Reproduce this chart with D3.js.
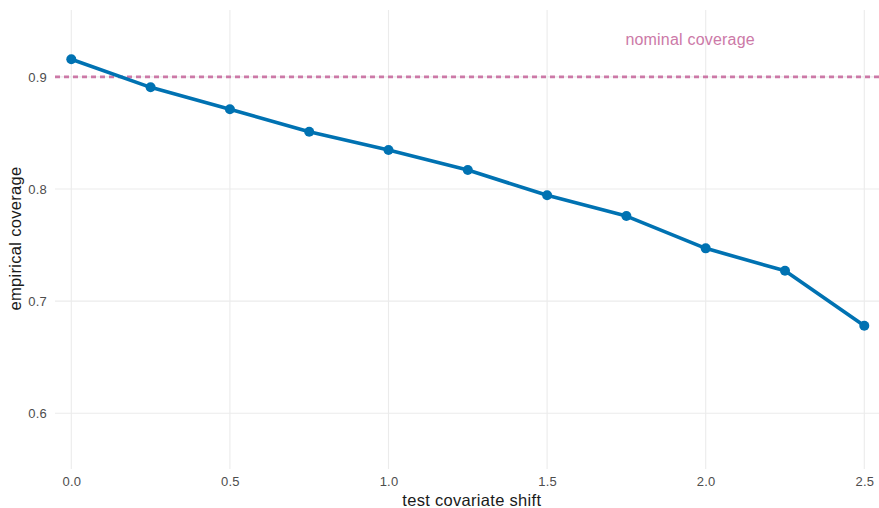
<!DOCTYPE html>
<html>
<head>
<meta charset="utf-8">
<script src="https://cdn.jsdelivr.net/npm/d3@7"></script>
<style>
  html, body { margin: 0; padding: 0; background: #fff; }
  svg { display: block; font-family: "Liberation Sans", Arial, Helvetica, sans-serif; }
</style>
</head>
<body>
<svg id="chart" width="879" height="508"></svg>
<script>
// Coverage of the prediction intervals as the test covariates drift away
const shifts = [0, 0.25, 0.5, 0.75, 1.0, 1.25, 1.5, 1.75, 2.0, 2.25, 2.5];
const coverage = [0.9157, 0.8907, 0.8711, 0.8511, 0.8348, 0.8169, 0.7944, 0.7759, 0.7471, 0.7271, 0.6781];
const nominal = 0.9;
const xTicks = [0, 0.5, 1.0, 1.5, 2.0, 2.5];
const yTicks = [0.6, 0.7, 0.8, 0.9];
const nominalLabel = "nominal coverage";
const nominalLabelX = 1.75;

const svg = d3.select("#chart");
const panel = { left: 55, right: 879, top: 10, bottom: 469 };

const x = d3.scaleLinear().domain([0, 2.5]).range([71.3, 864.3]);
const y = d3.scaleLinear().domain([0.6, 0.9]).range([413.3, 76.9]);

const gridColor = "#ebebeb";

// horizontal grid
svg.append("g")
  .selectAll("line")
  .data(yTicks)
  .join("line")
  .attr("x1", panel.left).attr("x2", panel.right)
  .attr("y1", d => y(d)).attr("y2", d => y(d))
  .attr("stroke", gridColor).attr("stroke-width", 1.1);

// vertical grid
svg.append("g")
  .selectAll("line")
  .data(xTicks)
  .join("line")
  .attr("x1", d => x(d)).attr("x2", d => x(d))
  .attr("y1", panel.top).attr("y2", panel.bottom)
  .attr("stroke", gridColor).attr("stroke-width", 1.1);

const tickStyle = sel => sel
  .attr("fill", "#4d4d4d")
  .style("font-size", "13px")
  .style("letter-spacing", "0.2px")
  .style("font-family", "'Liberation Sans', Arial, sans-serif");

// y axis labels
const yAxis = d3.axisLeft(y).tickValues(yTicks).tickFormat(d3.format(".1f")).tickSize(0).tickPadding(8);
const gy = svg.append("g").attr("transform", `translate(${panel.left},0)`).call(yAxis);
gy.select(".domain").remove();
gy.selectAll("text").call(tickStyle);

// x axis labels
const xAxis = d3.axisBottom(x).tickValues(xTicks).tickFormat(d3.format(".1f")).tickSize(0).tickPadding(8);
const gx = svg.append("g").attr("transform", `translate(0,${panel.bottom})`).call(xAxis);
gx.select(".domain").remove();
gx.selectAll("text").call(tickStyle);

// axis titles
svg.append("text")
  .attr("x", (x(0) + x(2.5)) / 2 + 4).attr("y", 505.5)
  .attr("text-anchor", "middle")
  .attr("fill", "#1a1a1a")
  .style("font-size", "16.5px")
  .style("letter-spacing", "0.3px")
  .text("test covariate shift");

svg.append("text")
  .attr("transform", `translate(21,${(panel.top + panel.bottom) / 2 - 1}) rotate(-90)`)
  .attr("text-anchor", "middle")
  .attr("fill", "#1a1a1a")
  .style("font-size", "16.5px")
  .style("letter-spacing", "0.3px")
  .text("empirical coverage");

// nominal coverage reference
svg.append("line")
  .attr("x1", panel.left).attr("x2", panel.right)
  .attr("y1", y(nominal)).attr("y2", y(nominal))
  .attr("stroke", "#CC79A7").attr("stroke-width", 2.6)
  .attr("stroke-dasharray", "5,4");

svg.append("text")
  .attr("x", x(nominalLabelX) - 1).attr("y", 44.5)
  .attr("fill", "#CC79A7")
  .style("font-size", "16px")
  .style("letter-spacing", "0.2px")
  .text(nominalLabel);

// coverage line and points
const pts = shifts.map((s, i) => [s, coverage[i]]);
svg.append("path")
  .datum(pts)
  .attr("fill", "none")
  .attr("stroke", "#0072B2")
  .attr("stroke-width", 3.6)
  .attr("stroke-linejoin", "round")
  .attr("d", d3.line().x(d => x(d[0])).y(d => y(d[1])));

svg.append("g")
  .selectAll("circle")
  .data(pts)
  .join("circle")
  .attr("cx", d => x(d[0])).attr("cy", d => y(d[1]))
  .attr("r", 5)
  .attr("fill", "#0072B2");
</script>
</body>
</html>
